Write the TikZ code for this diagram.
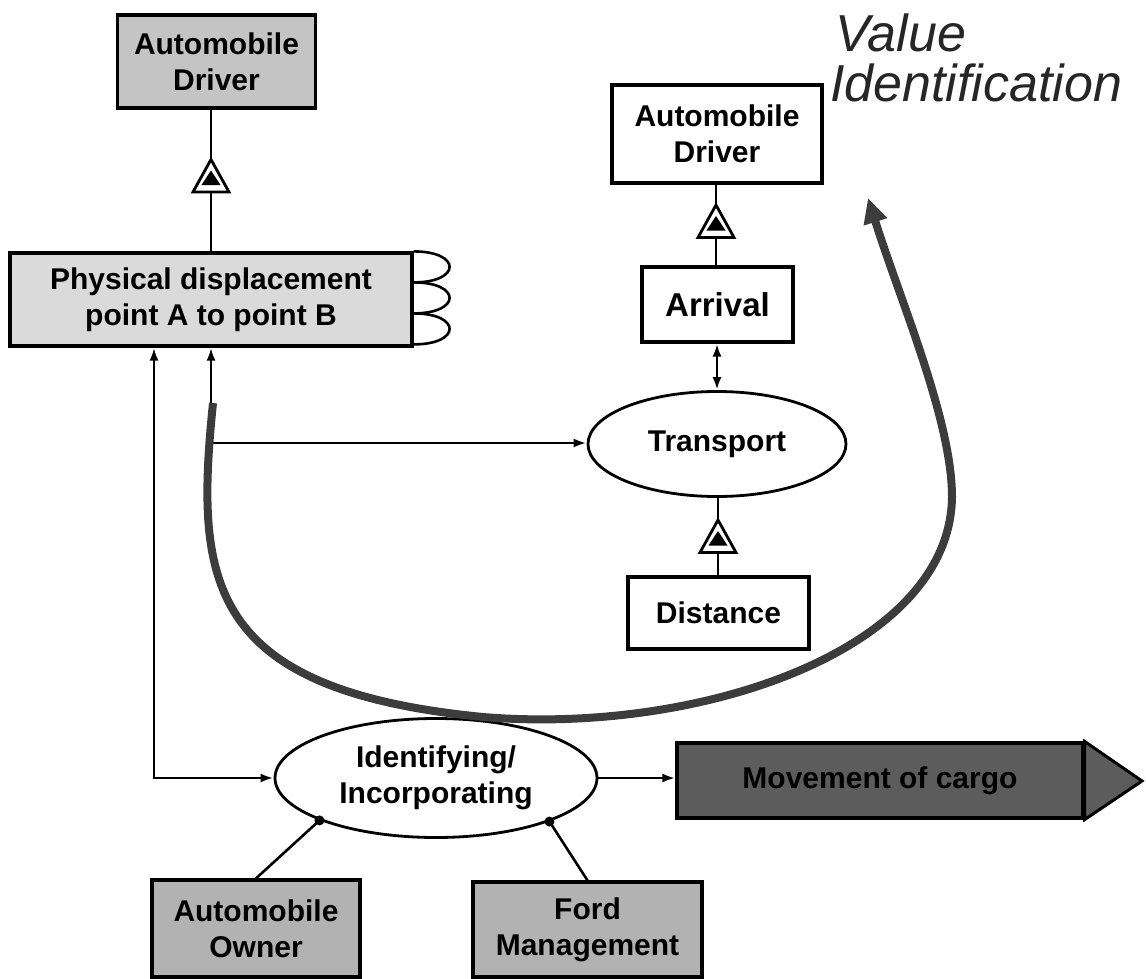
\documentclass[tikz,border=0pt]{standalone}
\usepackage{fontspec}
\setmainfont{Liberation Sans}
\usetikzlibrary{arrows.meta,shapes.geometric,calc}
\definecolor{gA}{HTML}{C4C4C4}
\definecolor{gB}{HTML}{DADADA}
\definecolor{gC}{HTML}{B2B2B2}
\definecolor{gD}{HTML}{5C5C5C}
\definecolor{curveC}{HTML}{3C3C3C}
\begin{document}
\begin{tikzpicture}[x=1pt,y=-1pt,
  box/.style={draw, line width=3.2pt, align=center, inner sep=0pt,
    font=\bfseries\fontsize{30}{36}\selectfont},
  oval/.style={box, ellipse, line width=2.8pt},
  conn/.style={line width=2.6pt},
  arr/.style={-{Latex[length=13pt,width=9pt]}},
  barr/.style={{Latex[length=13pt,width=9pt]}-{Latex[length=13pt,width=9pt]}},
  vistyle/.style={anchor=base west, inner sep=0pt, text=black!85,
    font=\itshape\fontsize{52}{52}\selectfont},
  gen/.pic={\draw[line width=2.8pt, fill=white, line join=miter] (-18,15.5) -- (18,15.5) -- (0,-17) -- cycle;
            \fill (-9.5,8.5) -- (9.5,8.5) -- (0,-6) -- cycle;}
]
\useasboundingbox (0,0) rectangle (1146,979);

% nodes
\node[box, fill=gA, minimum width=198pt, minimum height=93pt] (d1) at (216.5,61.5) {Automobile\\Driver};
\node[box, fill=gB, minimum width=402pt, minimum height=93pt] (pd) at (211,299.5) {Physical displacement\\point A to point B};
\node[box, minimum width=210pt, minimum height=98pt] (d2) at (717,134) {Automobile\\Driver};
\node[box, minimum width=151pt, minimum height=75pt, font=\bfseries\fontsize{33}{38}\selectfont] (arr) at (717.5,304.5) {Arrival};
\node[oval, minimum width=258pt, minimum height=105pt] (tr) at (717,444) {Transport};
\node[box, minimum width=181pt, minimum height=72pt] (dist) at (718.5,613) {Distance};
\node[oval, minimum width=322pt, minimum height=119pt] (idf) at (436,778) {Identifying/\\Incorporating};
\node[box, fill=gC, minimum width=208pt, minimum height=97pt] (own) at (256,928.5) {Automobile\\Owner};
\node[box, fill=gC, minimum width=229pt, minimum height=95pt] (ford) at (587.5,929.5) {Ford\\Management};
\node[box, fill=gD, minimum width=406pt, minimum height=75pt] (mov) at (880,780.5) {Movement of cargo};
\coordinate (tip) at (1142,781);
\draw[line width=3pt, fill=gD, line join=miter] (mov.north east) -- (tip) -- (mov.south east) -- cycle;

\node[vistyle] (v1) at (835,52) {Value};
\node[vistyle] (v2) at (830,102) {Identification};

% loops on the physical displacement box
\foreach \i in {0,1,2}
  \draw[conn] ($(pd.north east)+(0,31*\i)$) .. controls +(48,0) and +(48,0) .. ($(pd.north east)+(0,31*\i+31)$);

% generalisation links
\coordinate (t1) at (211,176.5);
\draw[conn] (d1.south -| t1) -- (pd.north -| t1);
\pic at (t1) {gen};
\coordinate (t2) at (716,222);
\draw[conn] (d2.south -| t2) -- (arr.north -| t2);
\pic at (t2) {gen};
\coordinate (t3) at (718,537);
\draw[conn] (dist.north -| t3) -- (tr.south -| t3);
\pic at (t3) {gen};

\draw[conn, barr] (arr.south -| tr.north) -- (tr.north);

% connectors from the physical displacement box
\coordinate (J) at (211,443);
\draw[conn, arr] (J) -- (pd.south -| J);
\draw[conn, arr] (J) -- (J -| tr.west);
\coordinate (L) at (154,778);
\draw[conn, barr] (pd.south -| L) |- (idf.west);

\draw[conn, arr] (idf.east) -- (idf.east -| mov.west);

% participants
\fill (idf.200) circle (5pt);
\draw[conn] (idf.200) -- (own.north);
\fill (idf.339) circle (5pt);
\draw[conn] (idf.339) -- (ford.north);

% value identification curve
\coordinate (cs) at (213,403);
\coordinate (ce) at (868,198);
\draw[line width=8pt, draw=curveC, -{Triangle[length=25pt,width=23pt]}]
  (cs) .. controls (195,580) and (205,690) .. (483,717)
       .. controls (700,735) and (950,650) .. (952,497)
       .. controls (952,420) and (900,300) .. (ce);
\end{tikzpicture}
\end{document}
